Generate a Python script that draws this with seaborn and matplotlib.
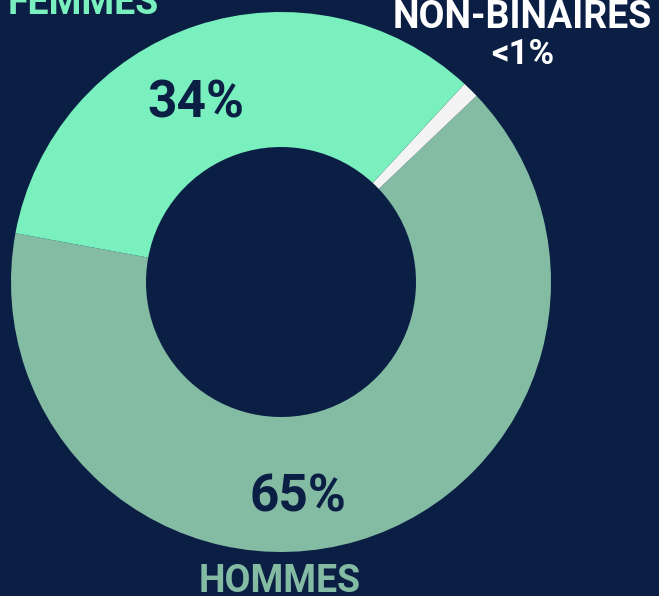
import seaborn as sns
import matplotlib.pyplot as plt

# Répartition par genre
labels = ["HOMMES", "NON-BINAIRES", "FEMMES"]
values = [65, 1, 34]
pct_labels = ["65%", "<1%", "34%"]

bg = "#0b1f45"
colors = ["#84bba3", "#f4f4f4", "#79f0bd"]

sns.set_style("white")
plt.rcParams["font.family"] = ["Roboto", "DejaVu Sans"]

fig = plt.figure(figsize=(6.59, 5.96), dpi=100, facecolor=bg)
ax = fig.add_axes([0, 0, 1, 1])
ax.set_facecolor(bg)

# donut, coordonnées en pixels (y vers le haut)
wedges, _ = ax.pie(values, colors=colors, startangle=169.6, counterclock=True,
                   radius=270, center=(281, 314),
                   wedgeprops=dict(width=135, linewidth=0))
ax.set_xlim(0, 659)
ax.set_ylim(0, 596)
ax.set_aspect("equal")
ax.axis("off")

# pourcentages dans l'anneau
ax.text(196, 596 - 104, pct_labels[2], color=bg, fontsize=37, fontweight="bold",
        ha="center", va="center")
ax.text(298, 596 - 498, pct_labels[0], color=bg, fontsize=37, fontweight="bold",
        ha="center", va="center")

# étiquettes
ax.text(83, 596 - 4, labels[2], color=colors[2], fontsize=27, fontweight="bold",
        ha="center", va="center")
ax.text(522, 596 - 18, labels[1], color="white", fontsize=27, fontweight="bold",
        ha="center", va="center")
ax.text(523, 596 - 55, pct_labels[1], color="white", fontsize=25, fontweight="bold",
        ha="center", va="center")
ax.text(280, 596 - 582, labels[0], color=colors[0], fontsize=27, fontweight="bold",
        ha="center", va="center")

fig.savefig("out.png", dpi=100, facecolor=bg)
